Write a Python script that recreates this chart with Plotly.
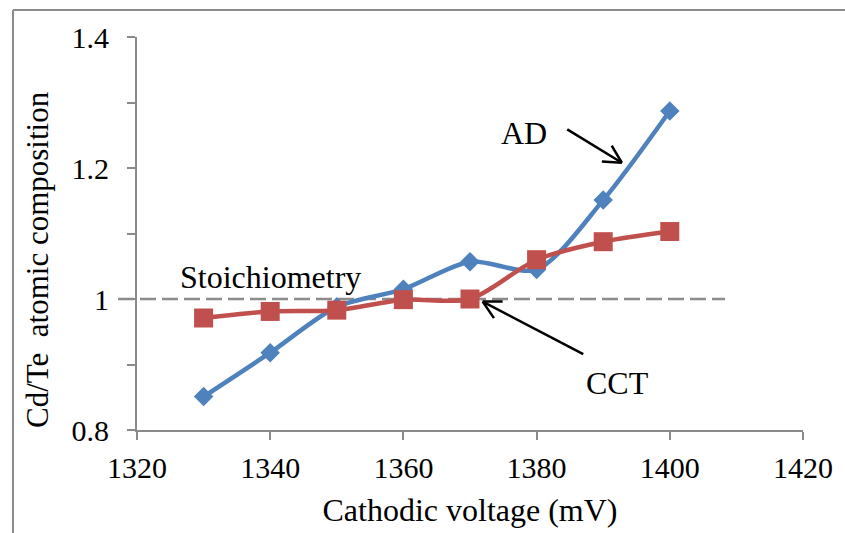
import plotly.graph_objects as go

# Cathodic deposition voltage (mV) and measured Cd/Te ratio
voltage = [1330, 1340, 1350, 1360, 1370, 1380, 1390, 1400]
ad_ratio = [0.851, 0.918, 0.988, 1.015, 1.057, 1.045, 1.151, 1.287]
cct_ratio = [0.971, 0.981, 0.983, 0.999, 1.000, 1.060, 1.0875, 1.103]

x_ticks = [1320, 1340, 1360, 1380, 1400, 1420]
y_ticks = [0.8, 1.0, 1.2, 1.4]
y_tick_text = ["0.8", "1", "1.2", "1.4"]
stoich_value = 1.0

W, H = 845, 533
ML, MR, MT, MB = 137, 42, 37, 103
X_RANGE = [1320, 1420]
Y_RANGE = [0.8, 1.4]
PW, PH = W - ML - MR, H - MT - MB

FONT = "Liberation Serif, Times New Roman, serif"
AXIS_GREY = "#8a8a8a"
BLUE = "#4F81BD"
RED = "#C0504D"


def to_px(x, y):
    px = ML + (x - X_RANGE[0]) / (X_RANGE[1] - X_RANGE[0]) * PW
    py = MT + (Y_RANGE[1] - y) / (Y_RANGE[1] - Y_RANGE[0]) * PH
    return px, py


def to_paper(px, py):
    return (px - ML) / PW, (H - MB - py) / PH


fig = go.Figure()

fig.add_trace(go.Scatter(
    x=voltage, y=ad_ratio, mode="lines+markers", name="AD",
    line=dict(color=BLUE, width=4.5, shape="spline", smoothing=0.8),
    marker=dict(symbol="diamond", size=15, color=BLUE),
))
fig.add_trace(go.Scatter(
    x=voltage, y=cct_ratio, mode="lines+markers", name="CCT",
    line=dict(color=RED, width=4.5, shape="spline", smoothing=0.8),
    marker=dict(symbol="square", size=19, color=RED),
))

shapes = []

# stoichiometric reference line (Cd/Te = 1)
sx0, _ = to_paper(118, 0)
sx1, _ = to_paper(725, 0)
shapes.append(dict(type="line", xref="paper", yref="y", x0=sx0, x1=sx1,
                   y0=stoich_value, y1=stoich_value,
                   line=dict(color="#8c8c8c", width=2.5, dash="16px,6px"),
                   layer="below"))

# outer frame (left and top edges)
fl, ft = to_paper(13, 10)
fr, fb = to_paper(W + 5, H + 5)
shapes.append(dict(type="line", xref="paper", yref="paper", x0=fl, x1=fl, y0=fb, y1=ft,
                   line=dict(color="#8c8c8c", width=2)))
shapes.append(dict(type="line", xref="paper", yref="paper", x0=fl, x1=fr, y0=ft, y1=ft,
                   line=dict(color="#8c8c8c", width=2)))


def arrow(tail, head, arm=20, spread=28):
    import math
    tx, ty = to_px(*tail)
    hx, hy = to_px(*head)
    ang = math.atan2(ty - hy, tx - hx)
    segs = [((tx, ty), (hx, hy))]
    for s in (-1, 1):
        a = ang + s * math.radians(spread)
        segs.append(((hx, hy), (hx + arm * math.cos(a), hy + arm * math.sin(a))))
    for (ax, ay), (bx, by) in segs:
        p0 = to_paper(ax, ay)
        p1 = to_paper(bx, by)
        shapes.append(dict(type="line", xref="paper", yref="paper",
                           x0=p0[0], y0=p0[1], x1=p1[0], y1=p1[1],
                           line=dict(color="black", width=2.5)))


arrow((1384.6, 1.259), (1392.8, 1.208))
arrow((1387.0, 0.916), (1371.9, 0.996))

fig.update_layout(shapes=shapes)

annots = [
    dict(x=1340.1, y=1.034, text="Stoichiometry"),
    dict(x=1378.1, y=1.253, text="AD"),
    dict(x=1392.2, y=0.872, text="CCT"),
]
for a in annots:
    fig.add_annotation(x=a["x"], y=a["y"], text=a["text"], showarrow=False,
                       xanchor="center", yanchor="middle",
                       font=dict(family=FONT, size=32, color="black"))

# y-axis title, placed a little below the plot's vertical centre
tx, ty = to_paper(37, 260)
fig.add_annotation(x=tx, y=ty, xref="paper", yref="paper", showarrow=False,
                   text="Cd/Te\u00a0 atomic composition", textangle=-90,
                   xanchor="center", yanchor="middle",
                   font=dict(family=FONT, size=31, color="black"))

fig.update_xaxes(
    range=X_RANGE, tickvals=x_ticks, ticktext=[str(v) for v in x_ticks],
    showgrid=False, zeroline=False, showline=True, linecolor=AXIS_GREY, linewidth=2,
    ticks="outside", ticklen=8, tickwidth=2, tickcolor=AXIS_GREY,
    tickfont=dict(family=FONT, size=30, color="black"),
    ticklabelstandoff=2,
    title=dict(text="Cathodic voltage (mV)", font=dict(family=FONT, size=32, color="black"),
               standoff=16),
)
fig.update_yaxes(
    range=Y_RANGE, tickvals=y_ticks, ticktext=y_tick_text,
    showgrid=False, zeroline=False, showline=True, linecolor=AXIS_GREY, linewidth=2,
    ticks="outside", ticklen=8, tickwidth=2, tickcolor=AXIS_GREY,
    minor=dict(dtick=0.1, ticks="outside", ticklen=8, tickwidth=2, tickcolor=AXIS_GREY,
               showgrid=False),
    tickfont=dict(family=FONT, size=30, color="black"),
    ticklabelstandoff=12,
)

fig.update_layout(
    width=W, height=H, showlegend=False,
    margin=dict(l=ML, r=MR, t=MT, b=MB, pad=0),
    paper_bgcolor="white", plot_bgcolor="white",
)

fig.write_html("out.html")
